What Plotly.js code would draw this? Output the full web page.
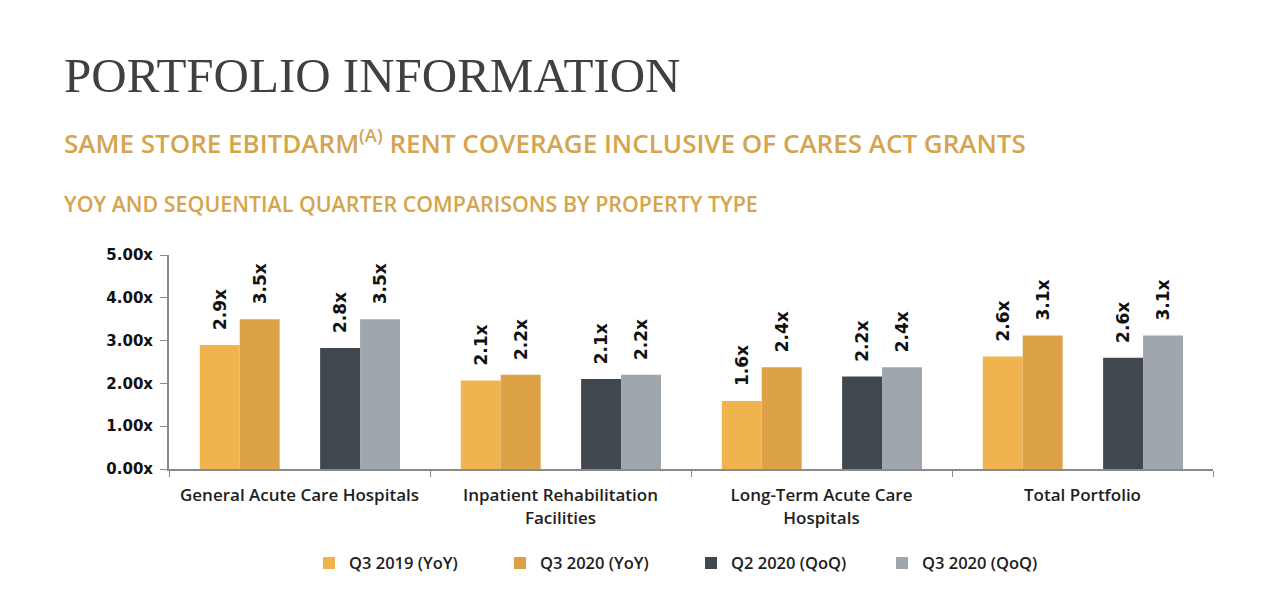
<!DOCTYPE html>
<html>
<head>
<meta charset="utf-8">
<script src="https://cdn.plot.ly/plotly-3.0.1.min.js"></script>
<style>
html,body{margin:0;padding:0;background:#fff;}
#chart{width:1280px;height:609px;}
</style>
</head>
<body>
<div id="chart"></div>
<script>
// ---- data ----
const categories = [
  "General Acute Care Hospitals",
  "Inpatient Rehabilitation<br>Facilities",
  "Long-Term Acute Care<br>Hospitals",
  "Total Portfolio"
];
const seriesNames = ["Q3 2019 (YoY)", "Q3 2020 (YoY)", "Q2 2020 (QoQ)", "Q3 2020 (QoQ)"];
const q3_2019_yoy = [2.90, 2.07, 1.59, 2.63];
const q3_2020_yoy = [3.50, 2.20, 2.38, 3.12];
const q2_2020_qoq = [2.83, 2.10, 2.16, 2.60];
const q3_2020_qoq = [3.50, 2.20, 2.38, 3.12];
const yTickVals = [0, 1, 2, 3, 4, 5];
const yTickText = ["0.00x", "1.00x", "2.00x", "3.00x", "4.00x", "5.00x"];

// ---- styles ----
const colors = ["#F0B34E", "#DCA245", "#41474F", "#A0A6AE"];
const offsets = [-0.382, -0.229, 0.079, 0.232];
const barWidth = 0.153;
const gold = "#D5A44C";
const seriesData = [q3_2019_yoy, q3_2020_yoy, q2_2020_qoq, q3_2020_qoq];

const traces = seriesData.map((vals, i) => ({
  type: "bar",
  name: seriesNames[i],
  x: categories,
  y: vals,
  offset: offsets[i],
  width: barWidth,
  marker: {color: colors[i], line: {width: 0}},
  texttemplate: "\u00a0\u00a0%{y:.1f}x",
  textposition: "outside",
  textangle: -90,
  constraintext: "none",
  cliponaxis: false,
  textfont: {family: "DejaVu Sans", size: 17, color: "#111", weight: "bold"},
  hoverinfo: "none"
}));

const layout = {
  width: 1280,
  height: 609,
  paper_bgcolor: "#fff",
  plot_bgcolor: "#fff",
  margin: {l: 169, r: 67, t: 255, b: 140, pad: 0},
  barmode: "overlay",
  showlegend: true,
  title: {
    text: "PORTFOLIO INFORMATION",
    font: {family: "Liberation Serif", size: 49, color: "#404044"},
    xref: "container", yref: "container",
    x: 64/1280, xanchor: "left",
    y: 1 - 75/609, yanchor: "middle"
  },
  xaxis: {
    type: "category",
    showline: true, linecolor: "#8a8a8a", linewidth: 2,
    ticks: "outside", tickson: "boundaries", ticklen: 6, tickcolor: "#8a8a8a", tickwidth: 1,
    showgrid: false, zeroline: false,
    tickfont: {family: "Open Sans", size: 17, color: "#1e1e1e", weight: 600},
    ticklabelstandoff: 10,
    fixedrange: true
  },
  yaxis: {
    range: [0, 5],
    tickvals: yTickVals, ticktext: yTickText,
    showline: true, linecolor: "#8a8a8a", linewidth: 2,
    ticks: "outside", ticklen: 7, tickcolor: "#8a8a8a", tickwidth: 1,
    showgrid: false, zeroline: false,
    tickfont: {family: "DejaVu Sans", size: 15, color: "#111", weight: "bold"},
    ticklabelstandoff: 4,
    fixedrange: true
  },
  legend: {
    orientation: "h",
    x: 0.5, xanchor: "center",
    y: -0.44, yanchor: "middle",
    font: {family: "Open Sans", size: 16.5, color: "#1e1e1e", weight: 600},
    entrywidth: 146, entrywidthmode: "pixels",
    itemwidth: 30,
    traceorder: "normal"
  },
  annotations: [
    {
      text: "SAME STORE EBITDARM<sup>(A)</sup> RENT COVERAGE INCLUSIVE OF CARES ACT GRANTS",
      xref: "paper", yref: "paper",
      x: (62 - 169) / 1044, xanchor: "left",
      y: (469 - 142) / 214, yanchor: "middle",
      showarrow: false,
      font: {family: "Open Sans", size: 26, color: gold, weight: 600}
    },
    {
      text: "YOY AND SEQUENTIAL QUARTER COMPARISONS BY PROPERTY TYPE",
      xref: "paper", yref: "paper",
      x: (62 - 169) / 1044, xanchor: "left",
      y: (469 - 203) / 214, yanchor: "middle",
      showarrow: false,
      font: {family: "Open Sans", size: 21.4, color: gold, weight: 600}
    }
  ]
};

Plotly.newPlot("chart", traces, layout, {displayModeBar: false, staticPlot: true});
</script>
</body>
</html>
